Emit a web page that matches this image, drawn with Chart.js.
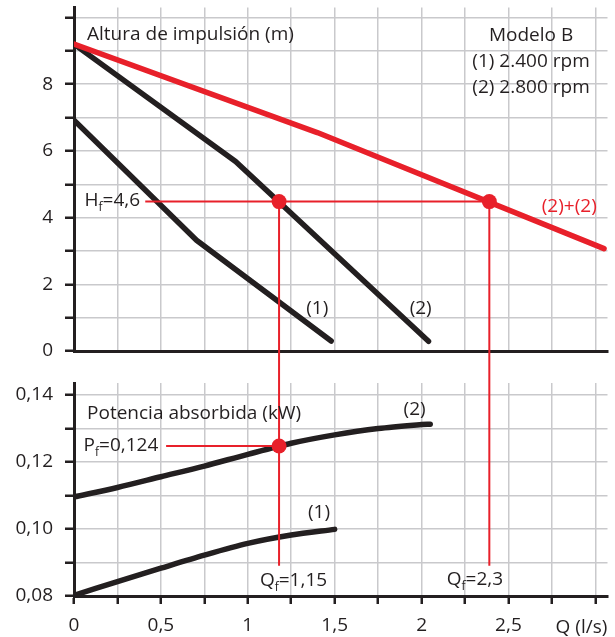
<!DOCTYPE html>
<html>
<head>
<meta charset="utf-8">
<script src="https://cdn.jsdelivr.net/npm/chart.js@4.4.1/dist/chart.umd.min.js"></script>
<style>
    body { margin: 0; background: #fff; }
    canvas { display: block; }
</style>
</head>
<body>
<canvas id="headChart" width="615" height="366"></canvas>
<canvas id="powerChart" width="615" height="271"></canvas>
<script>
// Curvas altura-caudal (Q en l/s, H en m)
const curve1Q = [0, 0.705, 1.48];
const curve1H = [6.92, 3.32, 0.30];
const curve2Q = [0, 0.93, 2.04];
const curve2H = [9.2, 5.68, 0.29];
const parallelQ = [0, 1.4, 3.05];
const parallelH = [9.2, 6.55, 3.07];

// Potencia absorbida (kW)
const power1Q = [0, 0.25, 0.5, 0.75, 1.0, 1.25, 1.5];
const power1P = [0.0802, 0.0843, 0.0883, 0.0922, 0.0957, 0.0982, 0.0999];
const power2Q = [0, 0.25, 0.5, 0.75, 1.0, 1.25, 1.5, 1.75, 2.0, 2.05];
const power2P = [0.1096, 0.1124, 0.1156, 0.1188, 0.1223, 0.1256, 0.1281, 0.1300, 0.1312, 0.1313];

// Puntos de funcionamiento
const workQ = [1.18, 2.39];
const workH = 4.48;
const workP = 0.1248;

// Ejes
const qTicks = [0, 0.25, 0.5, 0.75, 1, 1.25, 1.5, 1.75, 2, 2.25, 2.5, 2.75, 3];
const qLabels = { 0: '0', 0.5: '0,5', 1: '1', 1.5: '1,5', 2: '2', 2.5: '2,5' };
const hTicks = [0, 1, 2, 3, 4, 5, 6, 7, 8, 9, 10];
const hLabels = { 0: '0', 2: '2', 4: '4', 6: '6', 8: '8' };
const pTicks = [0.08, 0.09, 0.10, 0.11, 0.12, 0.13, 0.14];
const pLabels = { 0.08: '0,08', 0.1: '0,10', 0.12: '0,12', 0.14: '0,14' };

const RED = '#e8202a';
const INK = '#231f20';
const GRID = '#c9c9cc';
const FONT = '"Open Sans"';
const SIZE = 19;

const pts = (xs, ys) => xs.map((x, i) => ({ x, y: ys[i] }));

function curve(data, color, width, order) {
    return {
        data, borderColor: color, borderWidth: width, showLine: true,
        pointRadius: 0, borderCapStyle: 'round', borderJoinStyle: 'round',
        tension: 0, order
    };
}

function guide(data) {
    return {
        data, borderColor: RED, borderWidth: 2, showLine: true,
        pointRadius: 0, clip: false, order: 1
    };
}

function dots(data) {
    return {
        data, pointRadius: 7.5, pointBackgroundColor: RED,
        pointBorderWidth: 0, showLine: false, order: 0
    };
}

// texto con subíndice: "H_f=4,6" -> H, f subíndice, =4,6
function textPlugin(items) {
    return {
        id: 'texts',
        afterDatasetsDraw(chart) {
            const { ctx, scales: { x, y } } = chart;
            ctx.save();
            ctx.textBaseline = 'middle';
            items.forEach(it => {
                const parts = [];
                const m = it.text.split('_');
                parts.push({ t: m[0], sub: false });
                if (m.length > 1) {
                    parts.push({ t: m[1][0], sub: true });
                    parts.push({ t: m[1].slice(1), sub: false });
                }
                const big = SIZE + 'px ' + FONT;
                const small = '12px ' + FONT;
                let total = 0;
                parts.forEach(p => {
                    ctx.font = p.sub ? small : big;
                    p.w = ctx.measureText(p.t).width;
                    total += p.w;
                });
                let px = x.getPixelForValue(it.x);
                if (it.align === 'center') px -= total / 2;
                if (it.align === 'right') px -= total;
                const py = y.getPixelForValue(it.y);
                ctx.fillStyle = it.color || INK;
                ctx.textAlign = 'left';
                parts.forEach(p => {
                    ctx.font = p.sub ? small : big;
                    ctx.fillText(p.t, px, p.sub ? py + 7 : py);
                    px += p.w;
                });
            });
            ctx.restore();
        }
    };
}

function xScale(showLabels, height) {
    return {
        type: 'linear', min: 0, max: 3.07,
        afterBuildTicks: s => { s.ticks = qTicks.map(v => ({ value: v })); },
        afterFit: s => {
            s.height = height;
            s.paddingLeft = 0;
            s.paddingRight = 0;
        },
        grid: {
            color: GRID, lineWidth: 1.5, drawTicks: showLabels,
            tickLength: 8, tickColor: INK, tickWidth: 2.5
        },
        border: { color: INK, width: 3 },
        ticks: {
            display: showLabels, padding: 10, maxRotation: 0, autoSkip: false,
            color: INK, font: { family: FONT, size: SIZE },
            callback: v => qLabels[v] ?? ''
        }
    };
}

function yScale(min, max, ticks, labels) {
    return {
        type: 'linear', min, max,
        afterBuildTicks: s => { s.ticks = ticks.map(v => ({ value: v })); },
        afterFit: s => {
            s.width = 74;
            s.paddingTop = 0;
            s.paddingBottom = 0;
        },
        grid: {
            color: GRID, lineWidth: 1.5, tickLength: 9,
            tickColor: INK, tickWidth: 2.5
        },
        border: { color: INK, width: 3 },
        ticks: {
            padding: 12, autoSkip: false, color: INK,
            font: { family: FONT, size: SIZE },
            callback: v => labels[Math.round(v * 100) / 100] ?? ''
        }
    };
}

const baseOptions = {
    responsive: false,
    animation: false,
    plugins: { legend: { display: false }, tooltip: { enabled: false } }
};

new Chart(document.getElementById('headChart'), {
    type: 'scatter',
    data: {
        datasets: [
            dots(workQ.map(q => ({ x: q, y: workH }))),
            guide(pts([0.41, workQ[1]], [workH, workH])),
            guide(pts([workQ[0], workQ[0]], [workH, -1])),
            guide(pts([workQ[1], workQ[1]], [workH, -1])),
            curve(pts(parallelQ, parallelH), RED, 5.5, 2),
            curve(pts(curve2Q, curve2H), INK, 5.5, 3),
            curve(pts(curve1Q, curve1H), INK, 5.5, 3)
        ]
    },
    options: {
        ...baseOptions,
        layout: { padding: { top: 6, right: 7, left: 0, bottom: 0 } },
        scales: {
            x: xScale(false, 15),
            y: yScale(0, 10.3, hTicks, hLabels)
        }
    },
    plugins: [textPlugin([
        { text: 'Altura de impulsión (m)', x: 0.075, y: 9.48 },
        { text: 'Modelo B', x: 2.63, y: 9.45, align: 'center' },
        { text: '(1) 2.400 rpm', x: 2.63, y: 8.68, align: 'center' },
        { text: '(2) 2.800 rpm', x: 2.63, y: 7.90, align: 'center' },
        { text: '(2)+(2)', x: 2.85, y: 4.32, align: 'center', color: RED },
        { text: '(1)', x: 1.40, y: 1.27, align: 'center' },
        { text: '(2)', x: 1.995, y: 1.27, align: 'center' },
        { text: 'H_f=4,6', x: 0.38, y: 4.52, align: 'right' }
    ])]
});

new Chart(document.getElementById('powerChart'), {
    type: 'scatter',
    data: {
        datasets: [
            dots([{ x: workQ[0], y: workP }]),
            guide(pts([0.53, workQ[0]], [workP, workP])),
            guide(pts([workQ[0], workQ[0]], [0.17, 0.089])),
            guide(pts([workQ[1], workQ[1]], [0.17, 0.089])),
            { ...curve(pts(power2Q, power2P), INK, 5.5, 3), tension: 0.3 },
            { ...curve(pts(power1Q, power1P), INK, 5.5, 3), tension: 0.3 }
        ]
    },
    options: {
        ...baseOptions,
        layout: { padding: { top: 17, right: 7, left: 0, bottom: 0 } },
        scales: {
            x: xScale(true, 41),
            y: yScale(0.08, 0.1436, pTicks, pLabels)
        }
    },
    plugins: [textPlugin([
        { text: 'Potencia absorbida (kW)', x: 0.075, y: 0.1346 },
        { text: '(2)', x: 1.96, y: 0.1358, align: 'center' },
        { text: '(1)', x: 1.41, y: 0.1048, align: 'center' },
        { text: 'P_f=0,124', x: 0.485, y: 0.1249, align: 'right' },
        { text: 'Q_f=1,15', x: 1.07, y: 0.0846 },
        { text: 'Q_f=2,3', x: 2.145, y: 0.0848 },
        { text: 'Q (l/s)', x: 2.92, y: 0.0707, align: 'center' }
    ])]
});
</script>
</body>
</html>
